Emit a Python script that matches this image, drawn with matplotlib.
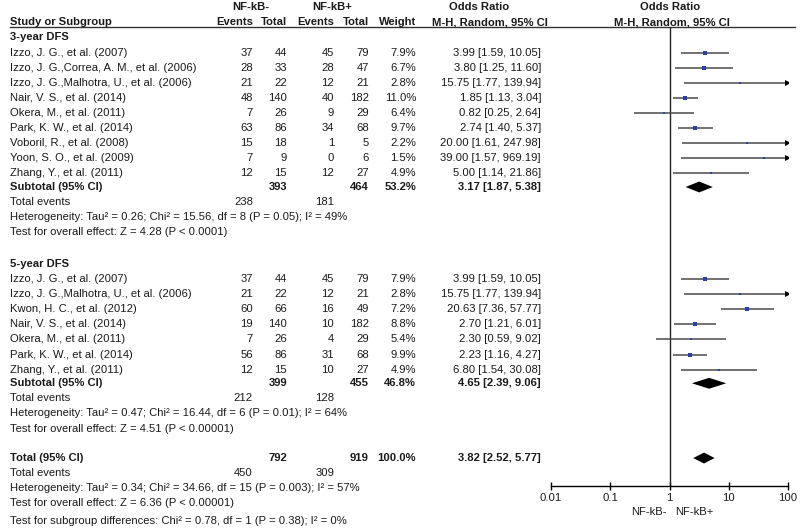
import numpy as np
import matplotlib
matplotlib.use("Agg")
import matplotlib.pyplot as plt
from matplotlib.patches import Polygon

plt.rcParams['font.family'] = ['Liberation Sans', 'DejaVu Sans']
FS = 8.1

# ---- data ----
studies_3 = ["Izzo, J. G., et al. (2007)", "Izzo, J. G.,Correa, A. M., et al. (2006)",
             "Izzo, J. G.,Malhotra, U., et al. (2006)", "Nair, V. S., et al. (2014)",
             "Okera, M., et al. (2011)", "Park, K. W., et al. (2014)",
             "Voboril, R., et al. (2008)", "Yoon, S. O., et al. (2009)", "Zhang, Y., et al. (2011)"]
ev_neg_3 = [37, 28, 21, 48, 7, 63, 15, 7, 12]
tot_neg_3 = [44, 33, 22, 140, 26, 86, 18, 9, 15]
ev_pos_3 = [45, 28, 12, 40, 9, 34, 1, 0, 12]
tot_pos_3 = [79, 47, 21, 182, 29, 68, 5, 6, 27]
weight_3 = [7.9, 6.7, 2.8, 11.0, 6.4, 9.7, 2.2, 1.5, 4.9]
or_3 = [3.99, 3.80, 15.75, 1.85, 0.82, 2.74, 20.00, 39.00, 5.00]
lo_3 = [1.59, 1.25, 1.77, 1.13, 0.25, 1.40, 1.61, 1.57, 1.14]
hi_3 = [10.05, 11.60, 139.94, 3.04, 2.64, 5.37, 247.98, 969.19, 21.86]

studies_5 = ["Izzo, J. G., et al. (2007)", "Izzo, J. G.,Malhotra, U., et al. (2006)",
             "Kwon, H. C., et al. (2012)", "Nair, V. S., et al. (2014)",
             "Okera, M., et al. (2011)", "Park, K. W., et al. (2014)", "Zhang, Y., et al. (2011)"]
ev_neg_5 = [37, 21, 60, 19, 7, 56, 12]
tot_neg_5 = [44, 22, 66, 140, 26, 86, 15]
ev_pos_5 = [45, 12, 16, 10, 4, 31, 10]
tot_pos_5 = [79, 21, 49, 182, 29, 68, 27]
weight_5 = [7.9, 2.8, 7.2, 8.8, 5.4, 9.9, 4.9]
or_5 = [3.99, 15.75, 20.63, 2.70, 2.30, 2.23, 6.80]
lo_5 = [1.59, 1.77, 7.36, 1.21, 0.59, 1.16, 1.54]
hi_5 = [10.05, 139.94, 57.77, 6.01, 9.02, 4.27, 30.08]

sub_3 = dict(tot_neg=393, tot_pos=464, weight="53.2%", est=3.17, lo=1.87, hi=5.38,
             ev_neg=238, ev_pos=181,
             het="Heterogeneity: Tau\u00b2 = 0.26; Chi\u00b2 = 15.56, df = 8 (P = 0.05); I\u00b2 = 49%",
             z="Test for overall effect: Z = 4.28 (P < 0.0001)")
sub_5 = dict(tot_neg=399, tot_pos=455, weight="46.8%", est=4.65, lo=2.39, hi=9.06,
             ev_neg=212, ev_pos=128,
             het="Heterogeneity: Tau\u00b2 = 0.47; Chi\u00b2 = 16.44, df = 6 (P = 0.01); I\u00b2 = 64%",
             z="Test for overall effect: Z = 4.51 (P < 0.00001)")
total = dict(tot_neg=792, tot_pos=919, weight="100.0%", est=3.82, lo=2.52, hi=5.77,
             ev_neg=450, ev_pos=309,
             het="Heterogeneity: Tau\u00b2 = 0.34; Chi\u00b2 = 34.66, df = 15 (P = 0.003); I\u00b2 = 57%",
             z="Test for overall effect: Z = 6.36 (P < 0.00001)",
             sg="Test for subgroup differences: Chi\u00b2 = 0.78, df = 1 (P = 0.38); I\u00b2 = 0%")

ticks = [0.01, 0.1, 1, 10, 100]
tick_labels = ["0.01", "0.1", "1", "10", "100"]

# ---- layout (pixels) ----
W, H = 800, 529
ROW0, DY = 37.5, 15.1          # pixel y of row 0 and row spacing
def p2r(p):
    return (p - ROW0) / DY

X_NAME, X_EVN, X_TOTN, X_EVP, X_TOTP, X_W, X_OR = 10, 253, 287, 334, 369, 416, 541
PL_L, PL_R = 551, 788          # forest plot x extent (0.01 .. 100)
AX_TOP, AX_BOT = 27, 485.7

fig = plt.figure(figsize=(8, 5.29), dpi=100)
tx = fig.add_axes([0, 0, 1, 1])
tx.set_xlim(0, W)
tx.set_ylim(p2r(H), p2r(0))
tx.axis('off')

def t(x, r, s, ha='left', bold=False):
    tx.text(x, r, s, ha=ha, va='center', fontsize=FS,
            fontweight='bold' if bold else 'normal', color='#1a1a1a')

# headers
t(251, -2, "NF-kB-", 'center', True)
t(332, -2, "NF-kB+", 'center', True)
t(479, -2, "Odds Ratio", 'center', True)
t(670, -2, "Odds Ratio", 'center', True)
t(X_NAME, -1, "Study or Subgroup", bold=True)
t(X_EVN, -1, "Events", 'right', True)
t(X_TOTN, -1, "Total", 'right', True)
t(X_EVP, -1, "Events", 'right', True)
t(X_TOTP, -1, "Total", 'right', True)
t(X_W, -1, "Weight", 'right', True)
t(490, -1, "M-H, Random, 95% CI", 'center', True)
t(672, -1, "M-H, Random, 95% CI", 'center', True)
tx.plot([10, 795], [p2r(AX_TOP)] * 2, color='#333333', lw=1.0)

fp = fig.add_axes([PL_L / W, 1 - AX_BOT / H, (PL_R - PL_L) / W, (AX_BOT - AX_TOP) / H])
fp.set_xscale('log')
fp.set_xlim(0.01, 100)
fp.set_ylim(p2r(AX_BOT), p2r(AX_TOP))
fp.patch.set_visible(False)
for s in ['top', 'left', 'right']:
    fp.spines[s].set_visible(False)
fp.spines['bottom'].set_linewidth(1.0)
fp.set_yticks([])
fp.set_xticks(ticks)
fp.set_xticklabels(tick_labels, fontsize=FS, color='#1a1a1a')
fp.minorticks_off()
fp.tick_params(axis='x', direction='inout', length=6, width=1.0, pad=2)
fp.axvline(1, color='#222222', lw=1.0)
fp.text(0.88, -0.057, "NF-kB-", transform=fp.get_xaxis_transform(), ha='right',
        va='center', fontsize=FS, color='#1a1a1a')
fp.text(1.25, -0.057, "NF-kB+", transform=fp.get_xaxis_transform(), ha='left',
        va='center', fontsize=FS, color='#1a1a1a')

def study_rows(r0, names, en, tn, ep, tp, w, est, lo, hi):
    for i in range(len(names)):
        r = r0 + i
        t(X_NAME, r, names[i])
        t(X_EVN, r, str(en[i]), 'right')
        t(X_TOTN, r, str(tn[i]), 'right')
        t(X_EVP, r, str(ep[i]), 'right')
        t(X_TOTP, r, str(tp[i]), 'right')
        t(X_W, r, "%.1f%%" % w[i], 'right')
        t(X_OR, r, "%.2f [%.2f, %.2f]" % (est[i], lo[i], hi[i]), 'right')
        right = min(hi[i], 100)
        left = max(lo[i], 0.01)
        fp.plot([left, right], [r, r], color='#4a4a4a', lw=1.1, solid_capstyle='butt')
        if hi[i] > 100:
            fp.plot([100], [r], marker='>', color='black', ms=4.5, markeredgewidth=0)
        fp.plot([est[i]], [r], marker='s', color='#2b3fae',
                ms=max(1.6, 0.85 * np.sqrt(w[i])), markeredgewidth=0)

def diamond(r, d, hh=0.36):
    fp.add_patch(Polygon([(d['lo'], r), (d['est'], r - hh), (d['hi'], r), (d['est'], r + hh)],
                         closed=True, color='black', lw=0))

def summary(r, label, d):
    t(X_NAME, r, label, bold=True)
    t(X_TOTN, r, str(d['tot_neg']), 'right', True)
    t(X_TOTP, r, str(d['tot_pos']), 'right', True)
    t(X_W, r, d['weight'], 'right', True)
    t(X_OR, r, "%.2f [%.2f, %.2f]" % (d['est'], d['lo'], d['hi']), 'right', True)
    diamond(r, d)
    t(X_NAME, r + 1, "Total events")
    t(X_EVN, r + 1, str(d['ev_neg']), 'right')
    t(X_EVP, r + 1, str(d['ev_pos']), 'right')
    t(X_NAME, r + 2, d['het'])
    t(X_NAME, r + 3, d['z'])

t(X_NAME, 0, "3-year DFS", bold=True)
study_rows(1, studies_3, ev_neg_3, tot_neg_3, ev_pos_3, tot_pos_3, weight_3, or_3, lo_3, hi_3)
summary(10 - 0.1, "Subtotal (95% CI)", sub_3)

t(X_NAME, 15, "5-year DFS", bold=True)
study_rows(16, studies_5, ev_neg_5, tot_neg_5, ev_pos_5, tot_pos_5, weight_5, or_5, lo_5, hi_5)
summary(23 - 0.1, "Subtotal (95% CI)", sub_5)

summary(28 - 0.15, "Total (95% CI)", total)
t(X_NAME, 32, total['sg'])

fig.savefig("out.png", dpi=100, facecolor='white')
